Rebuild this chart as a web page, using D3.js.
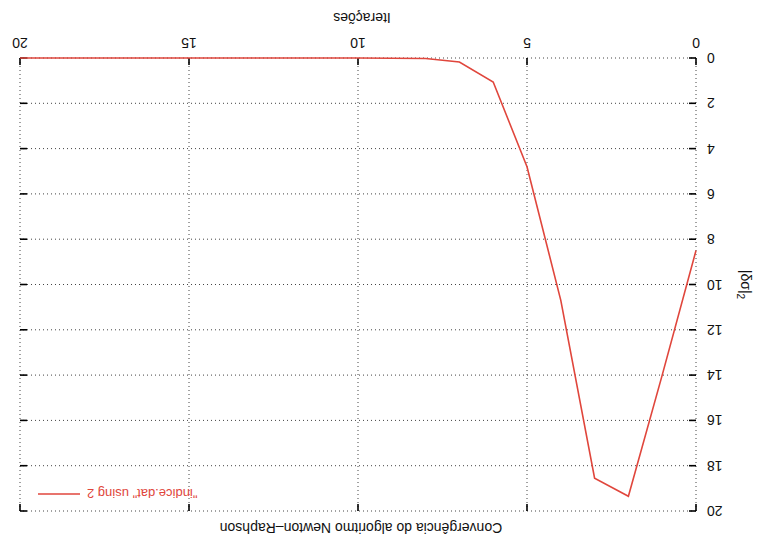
<!DOCTYPE html>
<html>
<head>
<meta charset="utf-8">
<script src="https://cdn.jsdelivr.net/npm/d3@7"></script>
<style>
  body { margin: 0; background: #fff; }
  text { font-family: "Liberation Sans", Arial, sans-serif; fill: #111; }
</style>
</head>
<body>
<svg id="chart" width="763" height="539"></svg>
<script>
const iteracoes = [0, 1, 2, 3, 4, 5, 6, 7, 8, 9, 10, 11, 12, 13, 14, 15, 16, 17, 18, 19, 20];
const norma = [8.5, 14.0, 19.35, 18.55, 10.7, 4.8, 1.06, 0.18, 0.02, 0.01, 0, 0, 0, 0, 0, 0, 0, 0, 0, 0, 0];
const xTicks = [0, 5, 10, 15, 20];
const yTicks = [0, 2, 4, 6, 8, 10, 12, 14, 16, 18, 20];

const titulo = "Convergência do algoritmo Newton–Raphson";
const rotuloX = "Iterações";
const legenda = "\"indice.dat\" using 2";

const W = 763, H = 539;
const margin = {left: 67, right: 20, top: 28, bottom: 58};
const svg = d3.select("#chart");

// the whole picture is drawn rotated by 180 degrees
const g = svg.append("g").attr("transform", `rotate(180, ${W / 2}, ${H / 2})`);

const x = d3.scaleLinear().domain([0, 20]).range([margin.left, W - margin.right]);
const y = d3.scaleLinear().domain([0, 20]).range([H - margin.bottom, margin.top]);

const lineColor = "#e0463c";

// grid
g.append("g").selectAll("line").data(xTicks).enter().append("line")
    .attr("x1", d => x(d)).attr("x2", d => x(d))
    .attr("y1", y(0)).attr("y2", y(20))
    .style("stroke", "#444").style("stroke-width", 1).style("stroke-dasharray", "1,3");
g.append("g").selectAll("line").data(yTicks).enter().append("line")
    .attr("x1", x(0)).attr("x2", x(20))
    .attr("y1", d => y(d)).attr("y2", d => y(d))
    .style("stroke", "#444").style("stroke-width", 1).style("stroke-dasharray", "1,3");

// ticks, inward, mirrored
const tickLen = 7;
const ticks = g.append("g").style("stroke", "#000").style("stroke-width", 1.6);
xTicks.forEach(d => {
    ticks.append("line").attr("x1", x(d)).attr("x2", x(d)).attr("y1", y(0)).attr("y2", y(0) - tickLen);
    ticks.append("line").attr("x1", x(d)).attr("x2", x(d)).attr("y1", y(20)).attr("y2", y(20) + tickLen);
});
yTicks.forEach(d => {
    ticks.append("line").attr("x1", x(0)).attr("x2", x(0) + tickLen).attr("y1", y(d)).attr("y2", y(d));
    ticks.append("line").attr("x1", x(20)).attr("x2", x(20) - tickLen).attr("y1", y(d)).attr("y2", y(d));
});

// tick labels
g.append("g").selectAll("text").data(xTicks).enter().append("text")
    .attr("x", d => x(d)).attr("y", y(0) + 20)
    .attr("text-anchor", "middle").style("font-size", "14px")
    .text(d => d);
g.append("g").selectAll("text").data(yTicks).enter().append("text")
    .attr("x", x(0) - 11).attr("y", d => y(d) + 5)
    .attr("text-anchor", "end").style("font-size", "14px")
    .text(d => d);

// axis labels and title
g.append("text").attr("x", (x(0) + x(20)) / 2 - 4).attr("y", H - 13)
    .attr("text-anchor", "middle").style("font-size", "14px").text(rotuloX);
g.append("text").attr("x", (x(0) + x(20)) / 2 - 3).attr("y", 16)
    .attr("text-anchor", "middle").style("font-size", "14px").text(titulo);

const yl = g.append("text").attr("transform", `translate(22, ${(y(0) + y(20)) / 2}) rotate(-90)`)
    .attr("text-anchor", "middle").style("font-size", "14px");
yl.append("tspan").text("|δσ|");
yl.append("tspan").attr("dy", 4).style("font-size", "10px").text("2");

// the series
const line = d3.line().x((d, i) => x(iteracoes[i])).y(d => y(d));
g.append("path").datum(norma)
    .attr("d", line)
    .style("fill", "none").style("stroke", lineColor).style("stroke-width", 1.6);

// legend
const lx = W - margin.right - 18, ly = margin.top + 17;
g.append("line").attr("x1", lx - 42).attr("x2", lx).attr("y1", ly).attr("y2", ly)
    .style("stroke", lineColor).style("stroke-width", 1.6);
g.append("text").attr("x", lx - 49).attr("y", ly + 5)
    .attr("text-anchor", "end").style("font-size", "13px").style("fill", lineColor)
    .text(legenda);
</script>
</body>
</html>
